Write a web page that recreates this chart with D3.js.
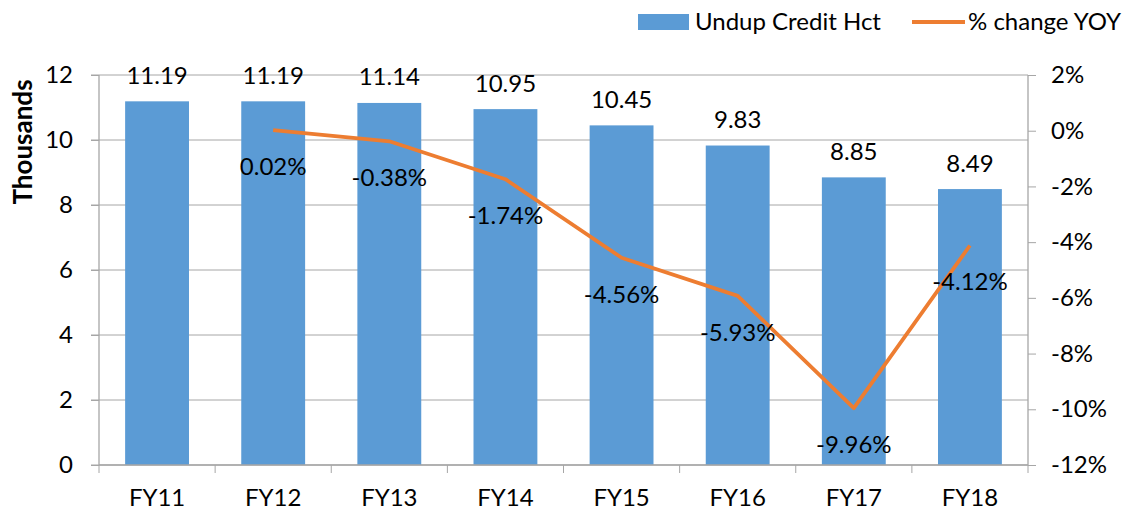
<!DOCTYPE html>
<html>
<head>
<meta charset="utf-8">
<script src="https://cdn.jsdelivr.net/npm/d3@7"></script>
<style>
  body { margin: 0; background: #fff; }
  text { font-family: Lato, "Open Sans", sans-serif; fill: #000; }
</style>
</head>
<body>
<script>
// chart values
const years = ["FY11", "FY12", "FY13", "FY14", "FY15", "FY16", "FY17", "FY18"];
const credit = [11.19, 11.19, 11.14, 10.95, 10.45, 9.83, 8.85, 8.49];
const change = [null, 0.02, -0.38, -1.74, -4.56, -5.93, -9.96, -4.12];
const leftTicks = [0, 2, 4, 6, 8, 10, 12];
const rightTicks = [2, 0, -2, -4, -6, -8, -10, -12];

const w = 1126, h = 512;
const plotLeft = 99, plotRight = 1028, plotTop = 75, plotBottom = 465;
const fontSize = "24px";

let svg = d3.select("body").append("svg")
  .attr("width", w)
  .attr("height", h);

// scales
let x = d3.scaleBand().domain(years).range([plotLeft, plotRight]).paddingInner(0.45).paddingOuter(0.225);
let band = d3.scaleBand().domain(years).range([plotLeft, plotRight]);
let yL = d3.scaleLinear().domain([0, 12]).range([plotBottom, plotTop]);
let yR = d3.scaleLinear().domain([-12, 2]).range([plotBottom, plotTop]);

const grey = "#a6a6a6";

// gridlines
svg.append("g").selectAll("line")
  .data(leftTicks)
  .enter().append("line")
  .attr("x1", plotLeft - 8).attr("x2", plotRight)
  .attr("y1", d => yL(d)).attr("y2", d => yL(d))
  .attr("stroke", grey).attr("stroke-width", 1);

// bars
svg.append("g").selectAll("rect")
  .data(credit)
  .enter().append("rect")
  .attr("x", (d, i) => x(years[i]))
  .attr("y", d => yL(d))
  .attr("width", x.bandwidth())
  .attr("height", d => plotBottom - yL(d))
  .attr("fill", "#5b9bd5");

// left axis
let axL = svg.append("g").attr("transform", "translate(" + plotLeft + ",0)")
  .call(d3.axisLeft(yL).tickValues(leftTicks).tickSize(8).tickPadding(18));
// right axis
let axR = svg.append("g").attr("transform", "translate(" + plotRight + ",0)")
  .call(d3.axisRight(yR).tickValues(rightTicks).tickSize(8).tickPadding(15)
    .tickFormat(d => d + "%"));
// bottom axis with ticks between categories
let axB = svg.append("g").attr("transform", "translate(0," + plotBottom + ")")
  .call(d3.axisBottom(band).tickSize(0).tickPadding(24));
axB.selectAll(".tick").append("line")
  .attr("x1", -band.bandwidth() / 2).attr("x2", -band.bandwidth() / 2)
  .attr("y1", 0).attr("y2", 8).attr("stroke", grey);
axB.append("line")
  .attr("x1", plotRight).attr("x2", plotRight).attr("y1", 0).attr("y2", 8).attr("stroke", grey);

[axL, axR, axB].forEach(function(a) {
  a.selectAll("path").attr("stroke", grey).attr("stroke-width", 1.3);
  a.selectAll(".tick line").attr("stroke", grey);
  a.selectAll("text").style("font-size", fontSize).attr("fill", "#000");
});
axL.select(".domain").attr("d", "M0," + plotBottom + "V" + plotTop);
axR.select(".domain").attr("d", "M0," + plotBottom + "V" + plotTop);
axB.select(".domain").attr("d", "M" + plotLeft + ",0H" + plotRight);

// bar value labels
svg.append("g").selectAll("text")
  .data(credit)
  .enter().append("text")
  .attr("x", (d, i) => band(years[i]) + band.bandwidth() / 2)
  .attr("y", d => yL(d) - 17.5)
  .attr("text-anchor", "middle")
  .style("font-size", fontSize)
  .text(d => d.toFixed(2));

// line
let pts = change.map((d, i) => [years[i], d]).filter(d => d[1] !== null);
let line = d3.line()
  .x(d => band(d[0]) + band.bandwidth() / 2)
  .y(d => yR(d[1]));
svg.append("path")
  .datum(pts)
  .attr("d", line)
  .attr("fill", "none")
  .attr("stroke", "#ed7d31")
  .attr("stroke-width", 3.8)
  .attr("stroke-linejoin", "round");

// line value labels
svg.append("g").selectAll("text")
  .data(pts)
  .enter().append("text")
  .attr("x", d => band(d[0]) + band.bandwidth() / 2)
  .attr("y", d => yR(d[1]) + 45)
  .attr("text-anchor", "middle")
  .style("font-size", fontSize)
  .text(d => d[1].toFixed(2) + "%");

// y axis title
svg.append("text")
  .attr("transform", "translate(32,142) rotate(-90)")
  .attr("text-anchor", "middle")
  .style("font-size", "26px")
  .style("font-weight", "bold")
  .text("Thousands");

// legend
let legend = svg.append("g");
legend.append("rect")
  .attr("x", 638).attr("y", 14).attr("width", 51).attr("height", 16)
  .attr("fill", "#5b9bd5");
legend.append("text")
  .attr("x", 695).attr("y", 30)
  .style("font-size", fontSize)
  .text("Undup Credit Hct");
legend.append("line")
  .attr("x1", 912).attr("x2", 965).attr("y1", 22).attr("y2", 22)
  .attr("stroke", "#ed7d31").attr("stroke-width", 3.8);
legend.append("text")
  .attr("x", 968).attr("y", 30)
  .style("font-size", fontSize)
  .text("% change YOY");
</script>
</body>
</html>
